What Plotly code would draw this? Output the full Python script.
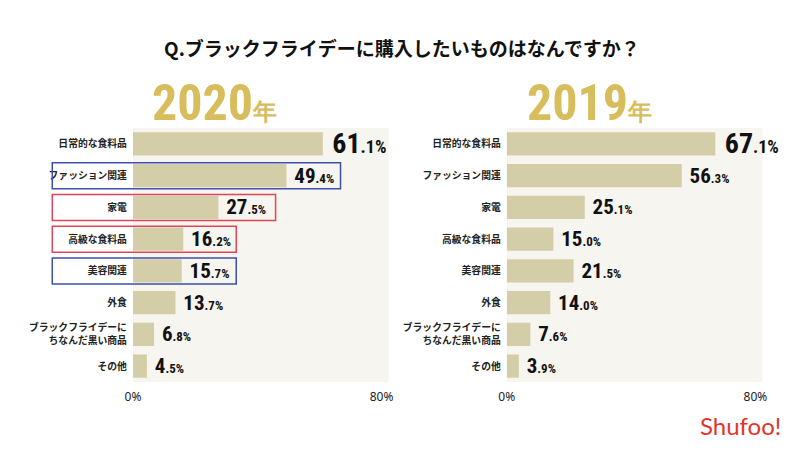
import plotly.graph_objects as go

categories = ["日常的な食料品", "ファッション関連", "家電", "高級な食料品", "美容関連", "外食",
              "ブラックフライデーに<br>ちなんだ黒い商品", "その他"]
values_2020 = [61.1, 49.4, 27.5, 16.2, 15.7, 13.7, 6.8, 4.5]
values_2019 = [67.1, 56.3, 25.1, 15.0, 21.5, 14.0, 7.6, 3.9]
tick_vals = [0, 80]
tick_text = ["0%", "80%"]
title_text = "Q.ブラックフライデーに購入したいものはなんですか？"
year_labels = ["2020", "2019"]

W, H = 800, 449
BAR = "#d4cea8"
BG = "#f7f5ef"
GOLD = "#d8bd5c"
NUMFONT = "Roboto Condensed, Open Sans Condensed, DejaVu Sans Condensed, sans-serif"
JPFONT = "Noto Sans CJK JP, sans-serif"


def label(v, i):
    big = 28 if i == 0 else 21
    small = round(big * 0.64)
    s = f"{v:.1f}"
    a, b = s.split(".")
    return (f"\u00a0<b>{a}</b><span style='font-size:{small}px'><b>.{b}%</b></span>"), big


fig = go.Figure()
for k, vals in enumerate([values_2020, values_2019]):
    texts, sizes = zip(*[label(v, i) for i, v in enumerate(vals)])
    fig.add_trace(go.Bar(
        x=vals, y=categories, orientation="h",
        marker=dict(color=BAR, line=dict(width=0)),
        text=list(texts), textposition="outside", cliponaxis=False,
        constraintext="none",
        textfont=dict(family=NUMFONT, size=list(sizes), color="#111"),
        xaxis="x" if k == 0 else "x2", yaxis="y" if k == 0 else "y2",
        hoverinfo="skip", showlegend=False,
    ))

y_dom = [1 - 382 / H, 1 - 128 / H]
xd1 = [127 / W, 387 / W]
xd2 = [507 / W, 767 / W]
xrange = [0, 82.3]

axis_common = dict(range=xrange, tickvals=tick_vals, ticktext=tick_text, showgrid=False,
                   zeroline=False, showline=False, ticks="", fixedrange=True,
                   ticklabelstandoff=6,
                   tickfont=dict(family="Noto Sans, sans-serif", size=12, color="#222"))
yaxis_common = dict(autorange="reversed", showgrid=False, zeroline=False, showline=False,
                    ticks="", ticklabelstandoff=5, fixedrange=True,
                    tickfont=dict(family=JPFONT, size=9.8, color="#222", weight=700))

fig.update_layout(
    width=W, height=H, margin=dict(l=0, r=0, t=0, b=0),
    paper_bgcolor="white", plot_bgcolor=BG, bargap=0.27,
    xaxis=dict(domain=xd1, anchor="y", **axis_common),
    xaxis2=dict(domain=xd2, anchor="y2", **axis_common),
    yaxis=dict(domain=y_dom, anchor="x", **yaxis_common),
    yaxis2=dict(domain=y_dom, anchor="x2", **yaxis_common),
)

anns = [dict(text=f"<b>{title_text}</b>", x=0.5, y=1 - 48 / H, xref="paper", yref="paper",
             xanchor="center", yanchor="middle", showarrow=False,
             font=dict(family=JPFONT, size=19, color="#111"))]
for yr, cx in zip(year_labels, [210 / W, 591 / W]):
    anns.append(dict(
        text=f"<b>{yr}</b><span style='font-size:24px'><b>年</b></span>",
        x=cx, y=1 - 103 / H, xref="paper", yref="paper", showarrow=False,
        xanchor="center", yanchor="middle",
        font=dict(family=NUMFONT, size=50, color=GOLD)))
anns.append(dict(text="Shufoo!", x=745 / W, y=1 - 425 / H, xref="paper", yref="paper",
                 xanchor="center", yanchor="middle", showarrow=False,
                 font=dict(family="Lato, Noto Sans, sans-serif", size=24, color="#e3342b")))
fig.update_layout(annotations=anns)

# highlight boxes (2020 panel)
row_h = (y_dom[1] - y_dom[0]) / len(categories)
boxes = [(1, 338, "#3d4fb0"), (2, 272, "#e04656"), (3, 232, "#e04656"), (4, 232, "#3d4fb0")]
shapes = []
for idx, right, col in boxes:
    cy = y_dom[1] - (idx + 0.5) * row_h
    half = 13 / H
    shapes.append(dict(type="rect", xref="paper", yref="paper", x0=45 / W, x1=right / W,
                       y0=cy - half, y1=cy + half, line=dict(color=col, width=1.5),
                       fillcolor="rgba(0,0,0,0)", layer="above"))
fig.update_layout(shapes=shapes)

fig.write_html("out.html", config={"displayModeBar": False},
               post_script="document.body.style.margin='0px';")
